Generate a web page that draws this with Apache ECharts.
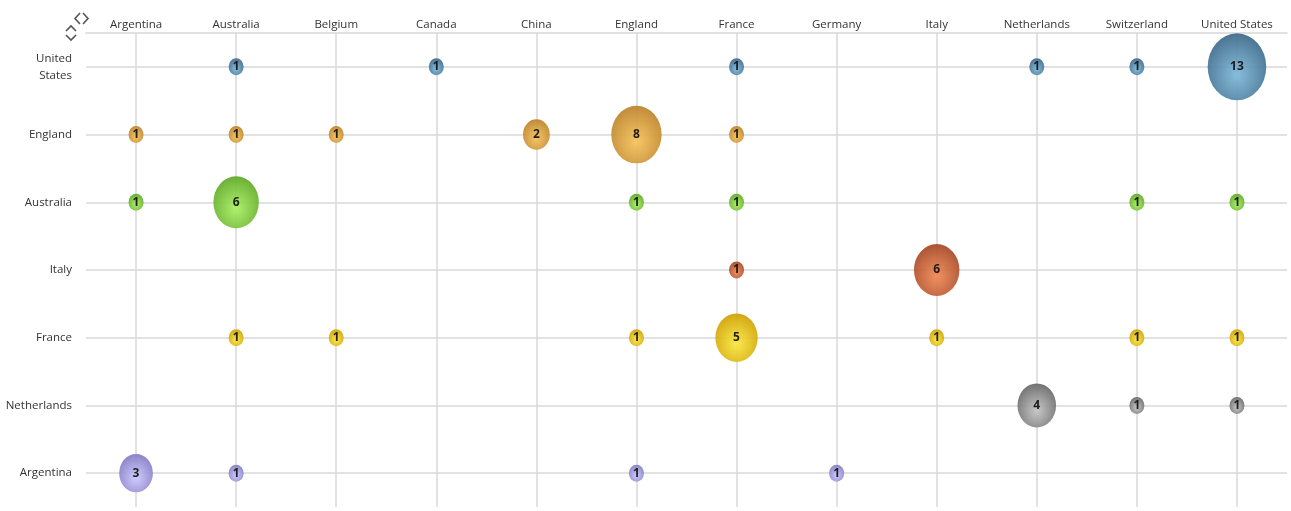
<!DOCTYPE html>
<html>
<head>
<meta charset="utf-8">
<script src="https://cdn.jsdelivr.net/npm/echarts@6/dist/echarts.min.js"></script>
<style>html,body{margin:0;padding:0;background:#fff;}#c{width:1291px;height:511px;}</style>
</head>
<body>
<div id="c"></div>
<script>
var xCategories = ['Argentina','Australia','Belgium','Canada','China','England','France','Germany','Italy','Netherlands','Switzerland','United States'];
var yCategories = ['United States','England','Australia','Italy','France','Netherlands','Argentina'];

// values per row (y category), aligned with xCategories; 0 = no bubble
var rowUnitedStates = [0,1,0,1,0,0,1,0,0,1,1,13];
var rowEngland      = [1,1,1,0,2,8,1,0,0,0,0,0];
var rowAustralia    = [1,6,0,0,0,1,1,0,0,0,1,1];
var rowItaly        = [0,0,0,0,0,0,1,0,6,0,0,0];
var rowFrance       = [0,1,1,0,0,1,5,0,1,0,1,1];
var rowNetherlands  = [0,0,0,0,0,0,0,0,0,4,1,1];
var rowArgentina    = [3,1,0,0,0,1,0,1,0,0,0,0];

var rows = [rowUnitedStates,rowEngland,rowAustralia,rowItaly,rowFrance,rowNetherlands,rowArgentina];
var palette = [
  ['#7eb8da','#3a6888'],
  ['#f7c25a','#bb8229'],
  ['#a8f062','#5ea824'],
  ['#f08854','#a44624'],
  ['#fbe840','#cfa000'],
  ['#c4c4c4','#666666'],
  ['#cdc8ff','#807ac2']
];
var ellipse = 'path://M0,50 A50,50 0 1,1 100,50 A50,50 0 1,1 0,50 Z';

function sizeFor(v){
  return [15 + 17*Math.log(v), 17 + 19.5*Math.log(v)];
}

var series = [];
// gridline carrier
series.push({
  type:'scatter', data:[], z:1, silent:true,
  markLine:{
    silent:true, symbol:'none', z:1, animation:false,
    label:{show:false},
    lineStyle:{color:'#d8d8d8', width:1.5, type:'solid'},
    data: xCategories.map(function(c){return {xAxis:c};}).concat(
          yCategories.map(function(c){return {yAxis:c};}))
  }
});
rows.forEach(function(row, ri){
  var data = [];
  row.forEach(function(v, ci){ if(v>0) data.push([xCategories[ci], yCategories[ri], v]); });
  series.push({
    type:'scatter', name:yCategories[ri], z:3,
    symbol: ellipse,
    symbolSize: function(d){ return sizeFor(d[2]); },
    itemStyle:{
      opacity:0.92,
      color:{type:'radial', x:0.5, y:0.62, r:0.62,
        colorStops:[{offset:0,color:palette[ri][0]},{offset:1,color:palette[ri][1]}]}
    },
    label:{show:true, position:'inside', formatter:function(p){return p.value[2];},
      color:'#111', fontSize:12, fontWeight:'bold', fontFamily:'Open Sans'},
    emphasis:{disabled:true},
    data:data
  });
});

var chart = echarts.init(document.getElementById('c'));
chart.setOption({
  animation:false,
  grid:{left:86, right:4, top:33, bottom:4},
  xAxis:{
    type:'category', position:'top', data:xCategories, boundaryGap:true,
    axisLine:{show:true, lineStyle:{color:'#d8d8d8', width:1.5}},
    axisTick:{show:false}, splitLine:{show:false},
    axisLabel:{color:'#333', fontSize:11.5, fontFamily:'Open Sans', margin:2}
  },
  yAxis:{
    type:'category', data:yCategories, inverse:true, boundaryGap:true,
    axisLine:{show:false}, axisTick:{show:false}, splitLine:{show:false},
    axisLabel:{color:'#333', fontSize:11.5, fontFamily:'Open Sans', margin:14, lineHeight:17,
      formatter:function(v){return v.replace(' ','\n');}}
  },
  graphic:[
    {type:'polyline', shape:{points:[[80,13],[75,18.5],[80,24]]}, style:{stroke:'#555', lineWidth:1.6, fill:null}},
    {type:'polyline', shape:{points:[[83,13],[88,18.5],[83,24]]}, style:{stroke:'#555', lineWidth:1.6, fill:null}},
    {type:'polyline', shape:{points:[[66,31],[71,26],[76,31]]}, style:{stroke:'#555', lineWidth:1.6, fill:null}},
    {type:'polyline', shape:{points:[[66,35],[71,40],[76,35]]}, style:{stroke:'#555', lineWidth:1.6, fill:null}}
  ],
  series:series
});
</script>
</body>
</html>
